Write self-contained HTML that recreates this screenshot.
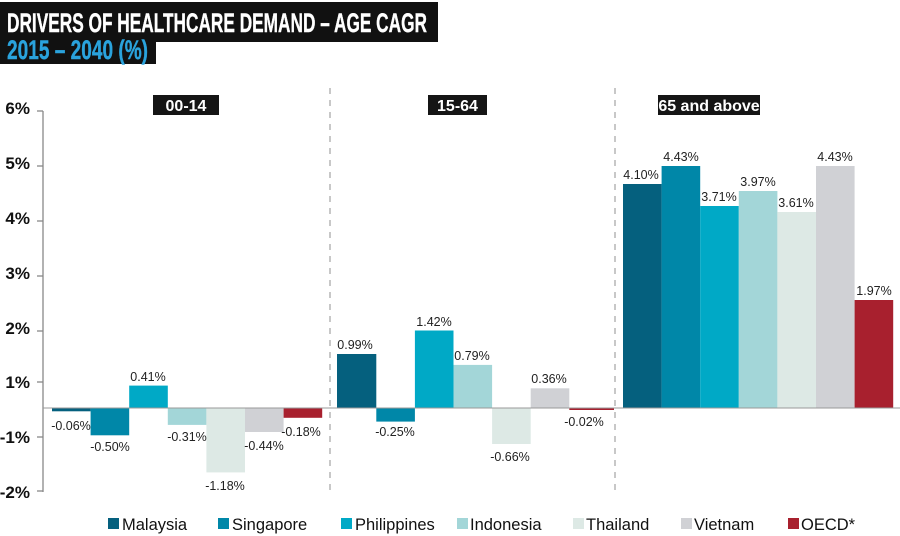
<!DOCTYPE html>
<html><head><meta charset="utf-8"><style>
html,body{margin:0;padding:0;background:#fff;}
svg{display:block;}
.t{font-family:"Liberation Sans Narrow","Liberation Sans",sans-serif;font-weight:bold;}
.v{font-family:"Liberation Sans",sans-serif;font-size:12.5px;fill:#222;}
.y{font-family:"Liberation Sans",sans-serif;font-weight:bold;font-size:17px;fill:#111;}
.lg{font-family:"Liberation Sans",sans-serif;font-size:16.5px;fill:#111;}
.h{font-family:"Liberation Sans Narrow","Liberation Sans",sans-serif;font-weight:bold;font-size:16px;fill:#fff;}
</style></head><body>
<svg width="900" height="536" xmlns="http://www.w3.org/2000/svg">
<!-- title -->
<rect x="0" y="2" width="438" height="40" fill="#111"/>
<rect x="0" y="36" width="156" height="28" fill="#111"/>
<text x="7" y="32" class="t" font-size="27" fill="#fff" stroke="#fff" stroke-width="0.4" textLength="420" lengthAdjust="spacingAndGlyphs">DRIVERS OF HEALTHCARE DEMAND – AGE CAGR</text>
<text x="7" y="59" class="t" font-size="27" fill="#2aa3dd" stroke="#2aa3dd" stroke-width="0.4" textLength="141" lengthAdjust="spacingAndGlyphs">2015 – 2040 (%)</text>

<!-- axis -->
<line x1="43" y1="111" x2="43" y2="492" stroke="#888" stroke-width="1.3"/>
<g stroke="#888" stroke-width="1.3">
<line x1="37" y1="111" x2="43" y2="111"/><line x1="37" y1="166" x2="43" y2="166"/>
<line x1="37" y1="221" x2="43" y2="221"/><line x1="37" y1="276" x2="43" y2="276"/>
<line x1="37" y1="331" x2="43" y2="331"/><line x1="37" y1="382" x2="43" y2="382"/>
<line x1="37" y1="437" x2="43" y2="437"/><line x1="37" y1="491" x2="43" y2="491"/>
</g>
<g class="y" text-anchor="end">
<text x="30" y="114">6%</text><text x="30" y="169">5%</text><text x="30" y="224">4%</text>
<text x="30" y="279">3%</text><text x="30" y="334">2%</text><text x="30" y="388">1%</text>
<text x="30" y="443">-1%</text><text x="30" y="498">-2%</text>
</g>
<!-- dividers -->
<line x1="330" y1="88" x2="330" y2="492" stroke="#aaa" stroke-width="1.3" stroke-dasharray="6,6"/>
<line x1="615" y1="88" x2="615" y2="492" stroke="#aaa" stroke-width="1.3" stroke-dasharray="6,6"/>
<!-- headers -->
<rect x="153" y="95" width="66" height="20" fill="#151515"/><text x="186" y="111" class="h" text-anchor="middle">00-14</text>
<rect x="428" y="95" width="59" height="20" fill="#151515"/><text x="457.5" y="111" class="h" text-anchor="middle">15-64</text>
<rect x="658" y="95" width="102" height="20" fill="#151515"/><text x="709" y="111" class="h" text-anchor="middle">65 and above</text>

<!-- panel 1 -->
<rect x="52" y="408" width="38.6" height="3.3" fill="#05607e"/>
<rect x="90.6" y="408" width="38.6" height="27.3" fill="#0087a8"/>
<rect x="129.2" y="385.6" width="38.6" height="22.4" fill="#00a9c6"/>
<rect x="167.8" y="408" width="38.6" height="16.9" fill="#a3d6d8"/>
<rect x="206.4" y="408" width="38.6" height="64.4" fill="#dde9e5"/>
<rect x="245" y="408" width="38.6" height="24" fill="#d0d1d5"/>
<rect x="283.6" y="408" width="38.6" height="9.8" fill="#a8202e"/>
<g class="v" text-anchor="middle">
<text x="71" y="430">-0.06%</text><text x="110" y="451">-0.50%</text><text x="148" y="381">0.41%</text>
<text x="187" y="441">-0.31%</text><text x="225" y="490">-1.18%</text><text x="264" y="450">-0.44%</text><text x="301" y="436">-0.18%</text>
</g>
<!-- panel 2 -->
<rect x="337" y="354" width="39.3" height="54" fill="#05607e"/>
<rect x="376.3" y="408" width="38.6" height="13.6" fill="#0087a8"/>
<rect x="414.9" y="330.5" width="38.6" height="77.5" fill="#00a9c6"/>
<rect x="453.5" y="364.9" width="38.6" height="43.1" fill="#a3d6d8"/>
<rect x="492.1" y="408" width="38.6" height="36" fill="#dde9e5"/>
<rect x="530.7" y="388.3" width="38.6" height="19.7" fill="#d0d1d5"/>
<rect x="569.3" y="408" width="44.7" height="2" fill="#a8202e"/>
<g class="v" text-anchor="middle">
<text x="355" y="349">0.99%</text><text x="395" y="436">-0.25%</text><text x="434" y="326">1.42%</text>
<text x="472" y="360">0.79%</text><text x="510" y="461">-0.66%</text><text x="549" y="383">0.36%</text><text x="584" y="426">-0.02%</text>
</g>
<!-- panel 3 -->
<rect x="623" y="184" width="38.6" height="224" fill="#05607e"/>
<rect x="661.6" y="166" width="38.6" height="242" fill="#0087a8"/>
<rect x="700.2" y="206" width="38.6" height="202" fill="#00a9c6"/>
<rect x="738.8" y="191" width="38.6" height="217" fill="#a3d6d8"/>
<rect x="777.4" y="212" width="38.6" height="196" fill="#dde9e5"/>
<rect x="816" y="166" width="38.6" height="242" fill="#d0d1d5"/>
<rect x="854.6" y="300" width="38.6" height="108" fill="#a8202e"/>
<g class="v" text-anchor="middle">
<text x="641" y="179">4.10%</text><text x="681" y="161">4.43%</text><text x="719" y="201">3.71%</text>
<text x="758" y="186">3.97%</text><text x="796" y="207">3.61%</text><text x="835" y="161">4.43%</text><text x="874" y="295">1.97%</text>
</g>
<!-- zero line -->
<line x1="43" y1="408" x2="900" y2="408" stroke="#999" stroke-width="1"/>

<!-- legend -->
<rect x="108" y="518" width="11" height="11" fill="#05607e"/><text x="122" y="530" class="lg">Malaysia</text>
<rect x="218" y="518" width="11" height="11" fill="#0087a8"/><text x="232" y="530" class="lg">Singapore</text>
<rect x="341" y="518" width="11" height="11" fill="#00a9c6"/><text x="355" y="530" class="lg">Philippines</text>
<rect x="457" y="518" width="11" height="11" fill="#a3d6d8"/><text x="470" y="530" class="lg">Indonesia</text>
<rect x="573" y="518" width="11" height="11" fill="#dde9e5"/><text x="586" y="530" class="lg">Thailand</text>
<rect x="681" y="518" width="11" height="11" fill="#d0d1d5"/><text x="694" y="530" class="lg">Vietnam</text>
<rect x="788" y="518" width="11" height="11" fill="#a8202e"/><text x="801" y="530" class="lg">OECD*</text>
</svg>
</body></html>
